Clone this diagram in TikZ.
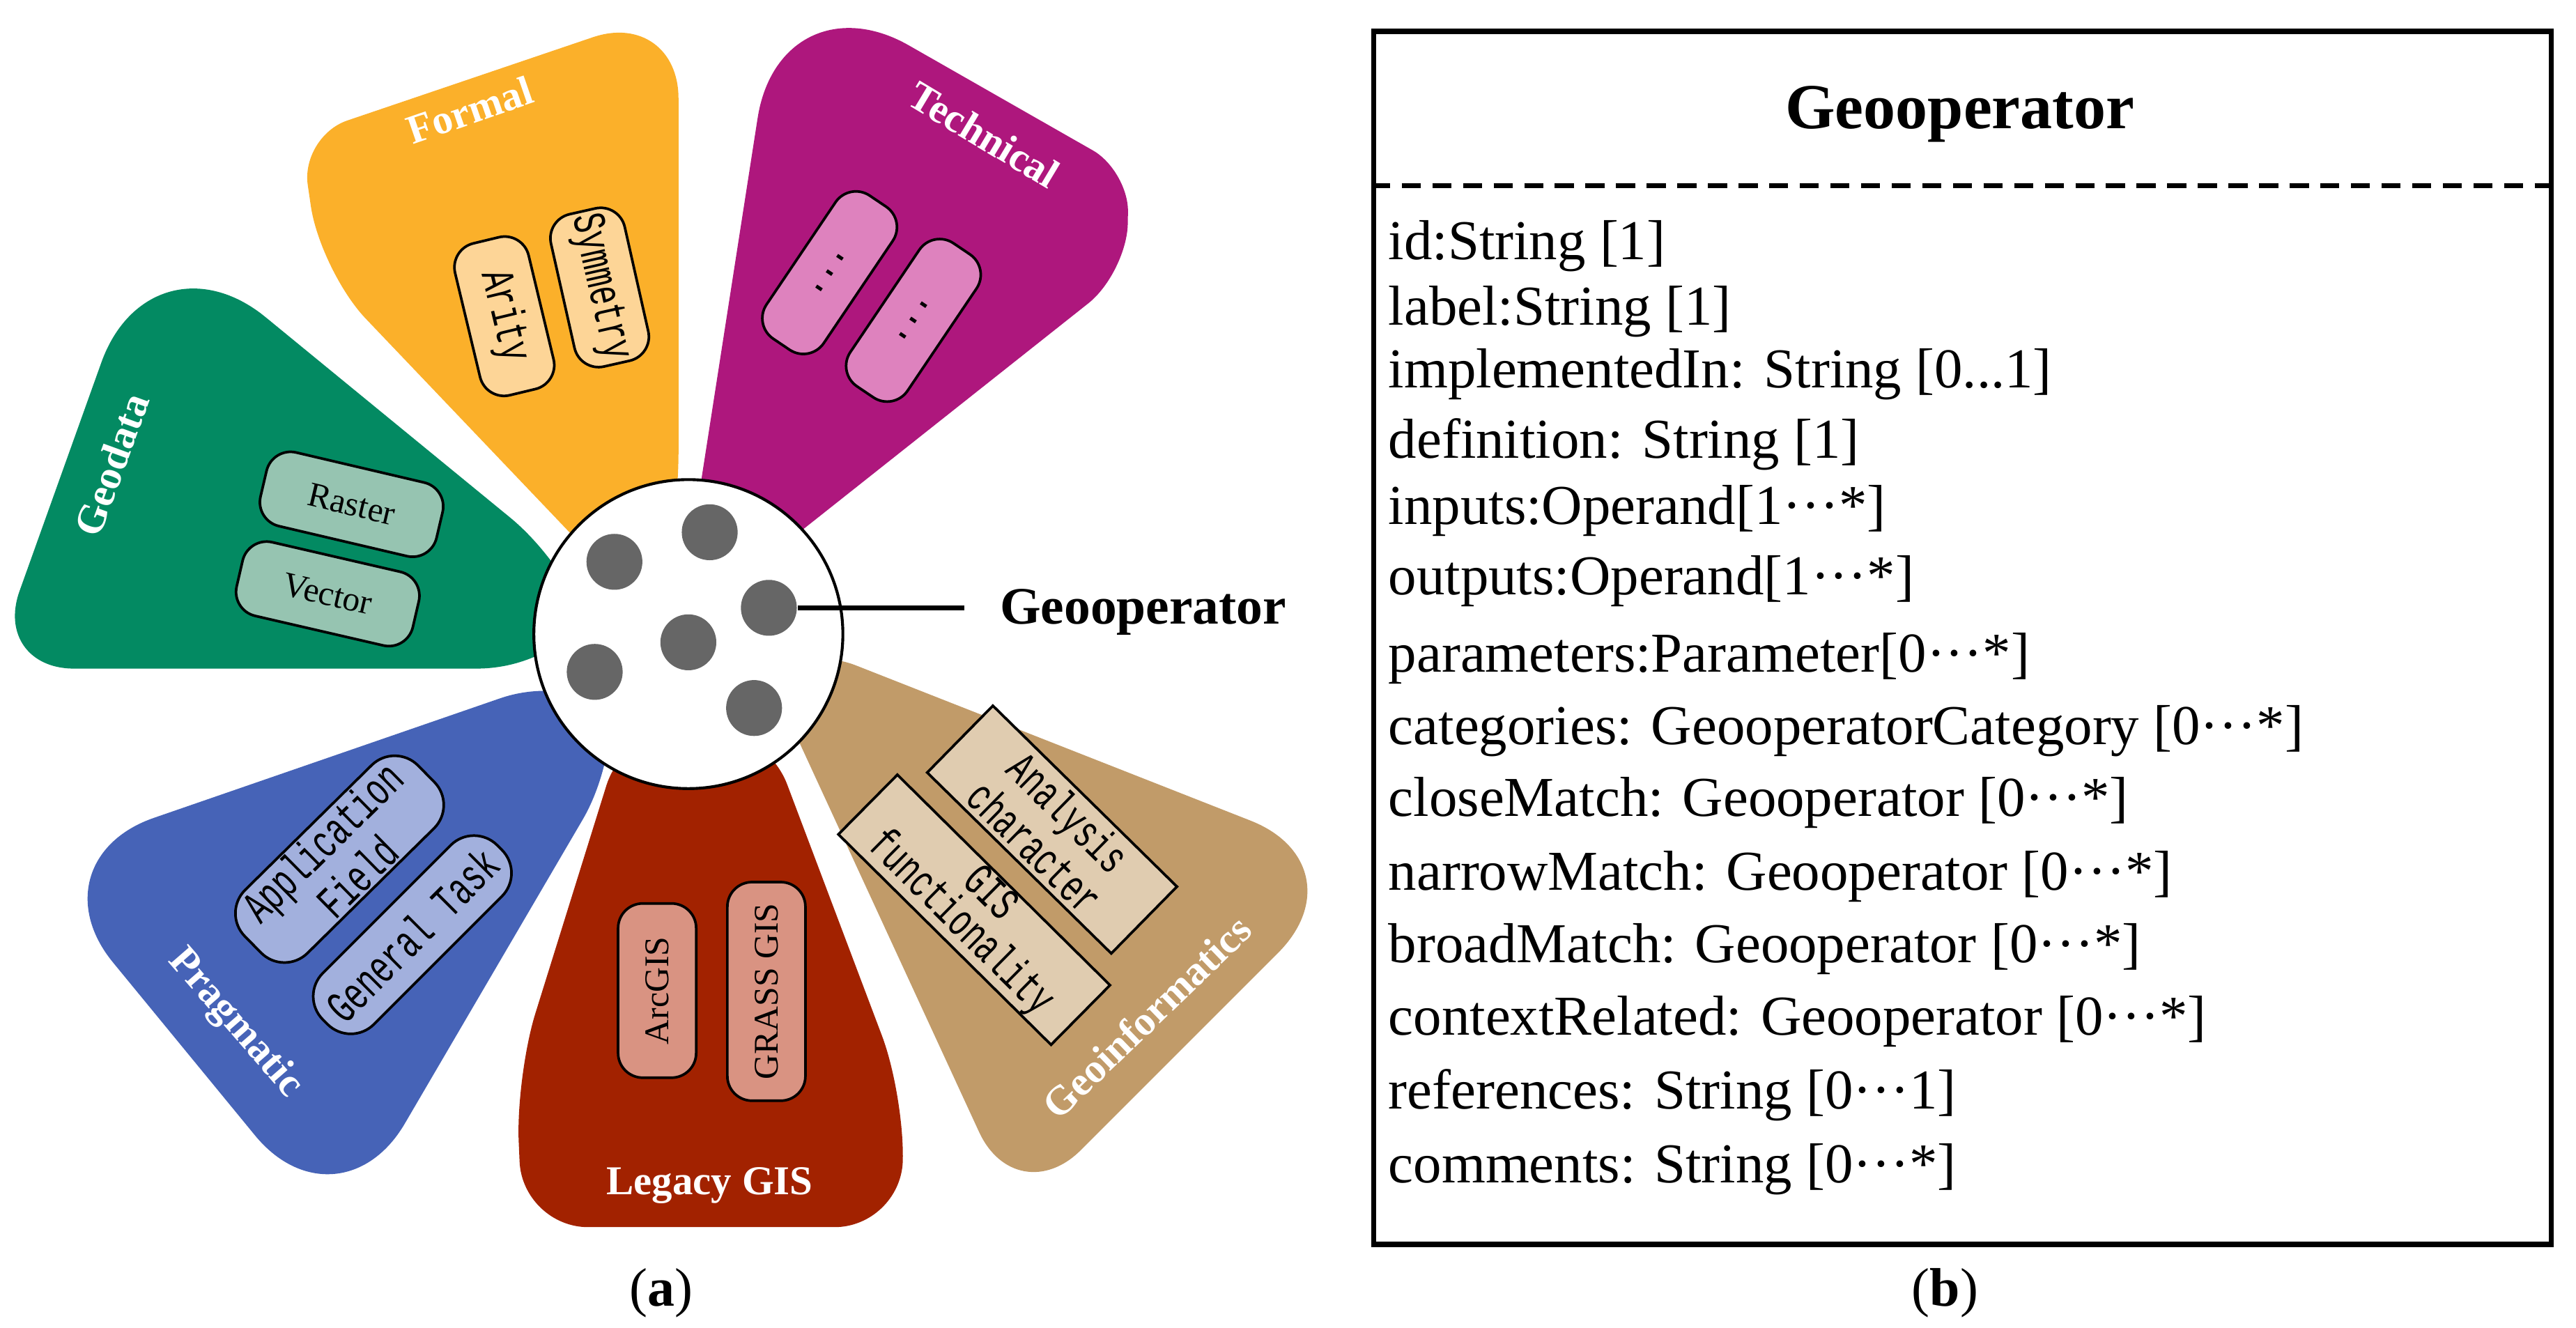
\documentclass[tikz,border=0pt]{standalone}
\usepackage{fontspec}
\setmainfont{Liberation Serif}
\setmonofont{Liberation Mono}
% condensed typewriter face for the item labels
\newfontfamily\narrowtt[FakeStretch=0.67]{Liberation Mono}

\definecolor{geodatagreen}{RGB}{3,138,98}
\definecolor{geodatalight}{RGB}{150,196,177}
\definecolor{formalorange}{RGB}{251,176,42}
\definecolor{formallight}{RGB}{253,213,151}
\definecolor{techpurple}{RGB}{174,23,125}
\definecolor{techlight}{RGB}{222,130,190}
\definecolor{geoinfotan}{RGB}{193,155,105}
\definecolor{geoinfolight}{RGB}{224,204,176}
\definecolor{legacyred}{RGB}{162,34,0}
\definecolor{legacylight}{RGB}{217,147,130}
\definecolor{pragblue}{RGB}{70,99,183}
\definecolor{praglight}{RGB}{162,176,221}
\definecolor{dotgray}{RGB}{102,102,102}

\newcommand{\mdots}{\textperiodcentered\textperiodcentered\textperiodcentered}

\begin{document}
\begin{tikzpicture}[x=0.01cm, y=-0.01cm,
    cat/.style={text=white, inner sep=0pt, font=\bfseries\fontsize{7.1pt}{8pt}\selectfont},
    itembox/.style={draw=black, line width=0.45pt, rounded corners=0.15cm, inner sep=0pt, align=center},
    serifitem/.style={itembox, font=\fontsize{6pt}{7pt}\selectfont},
    monoitem/.style={itembox, font=\narrowtt\fontsize{8pt}{7.2pt}\selectfont},
    squareitem/.style={monoitem, sharp corners},
    dot/.style={circle, fill=dotgray, minimum size=0.34cm, inner sep=0pt},
    attr/.style={anchor=base west, inner sep=0pt, font=\fontsize{9.75pt}{12pt}\selectfont},
    sublabel/.style={anchor=base, inner sep=0pt, font=\fontsize{9.4pt}{11pt}\selectfont}]
    \useasboundingbox (0,0) rectangle (1568,808.3);

    % petals
    \fill[geodatagreen] (380,407) [rounded corners=0.5cm] -- (-5,407) [rounded corners=0.9cm] -- (92,136) -- (380,372) -- cycle;
    \fill[formalorange] (400,380) [rounded corners=0.4cm] -- (195,165) [rounded corners=0.3cm] -- (183,83) [rounded corners=0.55cm] -- (413,5) -- (413,330) -- cycle;
    \fill[techpurple] (421,330) [rounded corners=0.9cm] -- (475,-17) [rounded corners=0.25cm] -- (687,104) [rounded corners=0.3cm] -- (686,166) -- (450,353) -- cycle;
    \fill[geoinfotan] (470,385) [rounded corners=0.75cm] -- (831,527) [rounded corners=0.55cm] -- (619,739) -- (462.6,400) -- cycle;
    \fill[legacyred] (381,440) [rounded corners=0.4cm] -- (314,655) -- (318,747) -- (548,747) -- (551,668) -- (465,440) -- cycle;
    \fill[pragblue] (380,399) [rounded corners=0.8cm] -- (18,524) -- (206,753) -- (395,430) -- cycle;

    % hub with operators
    \node[circle, draw, fill=white, line width=0.5pt, minimum size=1.88cm, inner sep=0pt] (hub) at (419,386) {};
    \foreach \n/\x/\y in {1/374/342, 2/432/324, 3/468/370, 4/419/391, 5/362/409, 6/459/431}
        \node[dot] (d\n) at (\x,\y) {};
    \coordinate (lineend) at (587,370);
    \draw[line width=0.9pt] (d3) -- (lineend);
    \node[anchor=base west, inner sep=0pt, font=\bfseries\fontsize{9.1pt}{11pt}\selectfont] (oplabel) at (608,380) {Geooperator};

    % category titles
    \node[cat, rotate=19] (formal) at (286,67) {Formal};
    \node[cat, rotate=-31] (technical) at (599,82) {Technical};
    \node[cat, rotate=70] (geodata) at (68,283) {Geodata};
    \node[cat, rotate=-49] (pragmatic) at (143,623) {Pragmatic};
    \node[cat, anchor=base] (legacy) at (432,727) {Legacy GIS};
    \node[cat, rotate=44] (geoinfo) at (698,619) {Geoinformatics};

    % items
    \node[monoitem, fill=formallight, rotate=-76.5, minimum width=0.95cm, minimum height=0.46cm] (arity) at (307,192.5) {Arity};
    \node[monoitem, fill=formallight, rotate=-77.3, minimum width=0.95cm, minimum height=0.46cm] (symmetry) at (365,175) {Symmetry};
    \node[monoitem, fill=techlight, rotate=56, minimum width=1.05cm, minimum height=0.42cm] (techa) at (505,166) {...};
    \node[monoitem, fill=techlight, rotate=56, minimum width=1.05cm, minimum height=0.42cm] (techb) at (556,195) {...};
    \node[serifitem, fill=geodatalight, rotate=-13.2, minimum width=1.1cm, minimum height=0.46cm] (raster) at (214,307) {Raster};
    \node[serifitem, fill=geodatalight, rotate=-13, minimum width=1.1cm, minimum height=0.46cm] (vector) at (199.5,361.5) {Vector};
    \node[serifitem, fill=legacylight, rotate=90, minimum width=1.06cm, minimum height=0.475cm] (arcgis) at (400,603) {ArcGIS};
    \node[serifitem, fill=legacylight, rotate=90, minimum width=1.33cm, minimum height=0.475cm] (grass) at (466.5,603.5) {GRASS GIS};
    \node[squareitem, fill=geoinfolight, rotate=-44.5, minimum width=1.57cm, minimum height=0.57cm] (analysis) at (640.4,505) {Analysis\\character};
    \node[squareitem, fill=geoinfolight, rotate=-44.7, minimum width=1.82cm, minimum height=0.51cm] (gisfunc) at (593,553.8) {GIS\\functionality};
    \node[monoitem, fill=praglight, rotate=44.6, rounded corners=0.2cm, minimum width=1.48cm, minimum height=0.54cm] (appfield) at (206.7,523) {Application\\Field};
    \node[monoitem, fill=praglight, rotate=45, rounded corners=0.2cm, minimum width=1.5cm, minimum height=0.44cm] (gentask) at (251,569) {General Task};

    % class box
    \node[draw, line width=0.9pt, anchor=north west, minimum width=7.164cm, minimum height=7.38cm, inner sep=0pt] (uml) at (834.6,17.5) {};
    \coordinate (sep) at (0,113);
    \draw[line width=0.8pt, dash pattern=on 3.3pt off 2pt] (uml.west |- sep) -- (uml.east |- sep);
    \node[anchor=base, inner sep=0pt, font=\bfseries\fontsize{11.1pt}{14pt}\selectfont] (umltitle) at (1193,78.4) {Geooperator};
    \foreach \y/\t [count=\i] in {158/{id:String [1]}, 198/{label:String [1]}, 236/{implementedIn: String [0...1]},
        279/{definition: String [1]}, 319/{inputs:Operand[1\mdots*]}, 362/{outputs:Operand[1\mdots*]},
        409/{parameters:Parameter[0\mdots*]}, 453/{categories: GeooperatorCategory [0\mdots*]},
        497/{closeMatch: Geooperator [0\mdots*]}, 542/{narrowMatch: Geooperator [0\mdots*]},
        586/{broadMatch: Geooperator [0\mdots*]}, 630/{contextRelated: Geooperator [0\mdots*]},
        675/{references: String [0\mdots1]}, 720/{comments: String [0\mdots*]}}
        \node[attr] (attr\i) at (844.5,\y) {\t};

    \node[sublabel] (suba) at (402.5,795) {(\textbf{a})};
    \node[sublabel] (subb) at (1184,795) {(\textbf{b})};
\end{tikzpicture}
\end{document}
